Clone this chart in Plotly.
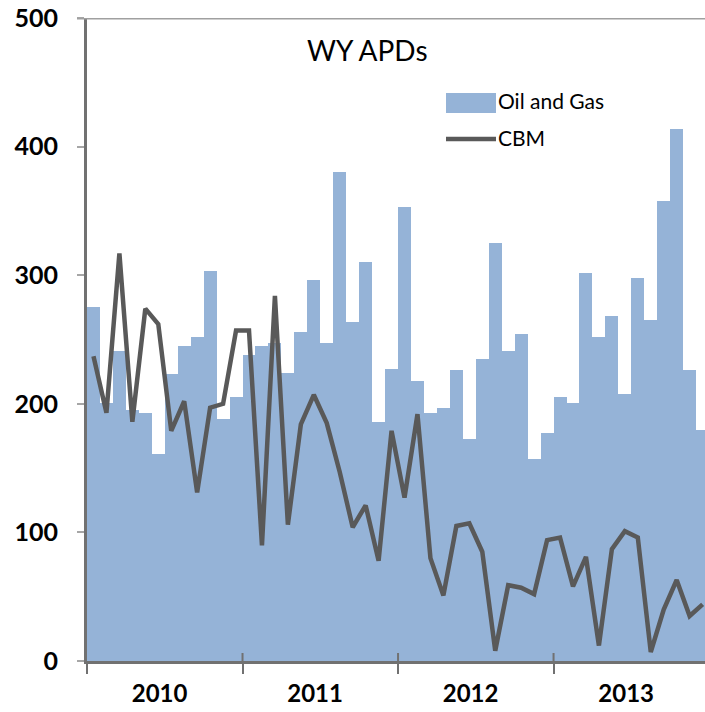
import plotly.graph_objects as go

# ---------------------------------------------------------------------------
# Data: monthly Wyoming APDs, Jan 2010 - Dec 2013
# ---------------------------------------------------------------------------

months = list(range(48))
year_labels = ['2010', '2011', '2012', '2013']
year_starts = [-0.5, 11.5, 23.5, 35.5]
year_label_pos = [5.1, 17.1, 29.1, 41.1]

oil_gas = [275, 201, 241, 195, 193, 161, 223, 245, 252, 303, 188, 205,
           238, 245, 247, 224, 256, 296, 247, 380, 264, 310, 186, 227,
           353, 218, 193, 197, 226, 173, 235, 325, 241, 254, 157, 177,
           205, 201, 302, 252, 268, 208, 298, 265, 358, 414, 226, 180]

cbm = [237, 193, 317, 186, 274, 262, 179, 202, 131, 197, 200, 257,
       257, 90, 284, 106, 184, 207, 185, 147, 104, 121, 78, 179,
       127, 192, 80, 51, 105, 107, 85, 8, 59, 57, 52, 94,
       96, 58, 81, 12, 87, 101, 96, 7, 40, 63, 35, 44]

y_ticks = [0, 100, 200, 300, 400, 500]

BAR_COL = '#95b3d7'
LINE_COL = '#595959'
AXIS_COL = '#717171'
FONT = 'Lato, Liberation Sans, sans-serif'

# ---------------------------------------------------------------------------
# Figure: body margin removed so the figure fills the 705x712 window
# ---------------------------------------------------------------------------

W, H = 705, 712
ml, mr, mt, mb = 87, 0, 18, H - 661
pw = W - ml - mr
ph = H - mt - mb
px_per_month = 12.96


def px(x):
    # page pixel -> paper fraction
    return (x - ml) / pw


def py(y):
    return (661 - y) / ph


fig = go.Figure()

fig.add_trace(go.Bar(
    x=months, y=oil_gas, width=1,
    marker=dict(color=BAR_COL, line_width=0),
    name='Oil and Gas', showlegend=False,
))
fig.add_trace(go.Scatter(
    x=months, y=cbm, mode='lines',
    line=dict(color=LINE_COL, width=4.5),
    name='CBM', showlegend=False,
))

shapes = []
# top border at 500
shapes.append(dict(type='line', xref='paper', yref='y', x0=-10 / pw, x1=1,
                   y0=500, y1=500, line=dict(color='#a0a0a0', width=3)))
# inner part of year tick marks
for xs in year_starts[1:]:
    shapes.append(dict(type='line', xref='x', yref='paper', x0=xs, x1=xs,
                       y0=0, y1=8 / ph, line=dict(color=AXIS_COL, width=2)))
# manual legend
shapes.append(dict(type='rect', xref='paper', yref='paper',
                   x0=px(446), x1=px(496), y0=py(113), y1=py(93),
                   fillcolor=BAR_COL, line_width=0))
shapes.append(dict(type='line', xref='paper', yref='paper',
                   x0=px(446), x1=px(496), y0=py(139), y1=py(139),
                   line=dict(color=LINE_COL, width=4.5)))

annotations = [
    dict(text='WY APDs', xref='paper', yref='paper', x=px(367), y=py(50),
         xanchor='center', yanchor='middle', showarrow=False,
         font=dict(size=28, color='black', family=FONT)),
    dict(text='Oil and Gas', xref='paper', yref='paper', x=px(496), y=py(101),
         xanchor='left', yanchor='middle', showarrow=False,
         font=dict(size=21, color='black', family=FONT)),
    dict(text='CBM', xref='paper', yref='paper', x=px(496), y=py(137),
         xanchor='left', yanchor='middle', showarrow=False,
         font=dict(size=21, color='black', family=FONT)),
]

fig.update_layout(
    width=W, height=H,
    margin=dict(l=ml, r=mr, t=mt, b=mb, pad=0),
    paper_bgcolor='white', plot_bgcolor='white',
    bargap=0,
    showlegend=False,
    font=dict(family=FONT, color='black'),
    shapes=shapes,
    annotations=annotations,
    xaxis=dict(
        range=[-0.5, -0.5 + pw / px_per_month],
        tickmode='array', tickvals=year_label_pos, ticktext=year_labels,
        ticks='', showgrid=False, zeroline=False,
        showline=True, linecolor=AXIS_COL, linewidth=3,
        tickfont=dict(size=24, family=FONT, weight='bold'),
        ticklabelstandoff=9, ticklabeloverflow='allow',
        minor=dict(tickmode='array', tickvals=year_starts, ticks='outside',
                   ticklen=10, tickwidth=2, tickcolor=AXIS_COL),
    ),
    yaxis=dict(
        range=[0, 500],
        tickmode='array', tickvals=y_ticks,
        ticks='outside', ticklen=7, tickwidth=2, tickcolor='#a6a6a6',
        showgrid=False, zeroline=False,
        showline=True, linecolor=AXIS_COL, linewidth=3,
        tickfont=dict(size=25, family=FONT, weight='bold'),
        ticklabelstandoff=14, ticklabeloverflow='allow',
    ),
)

fig.write_html(
    'out.html',
    config={'displayModeBar': False},
    post_script="document.body.style.margin='0';"
                "document.documentElement.style.overflow='hidden';",
)
